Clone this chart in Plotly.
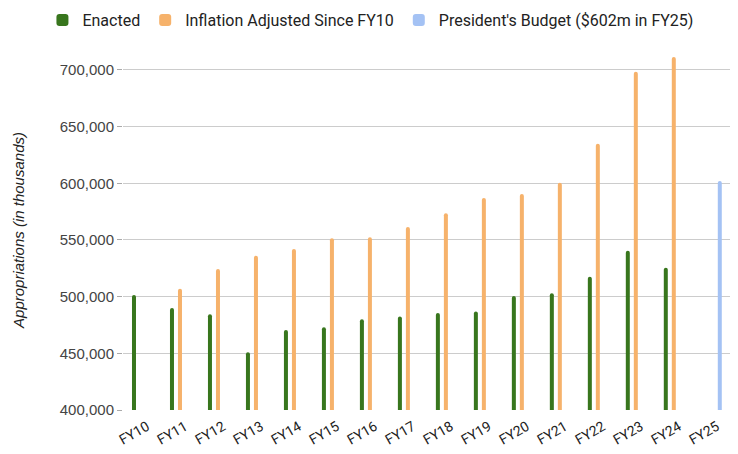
import plotly.graph_objects as go

categories = ["FY10", "FY11", "FY12", "FY13", "FY14", "FY15", "FY16", "FY17",
              "FY18", "FY19", "FY20", "FY21", "FY22", "FY23", "FY24", "FY25"]
enacted = [501500, 490000, 484500, 451000, 470500, 473000, 480000, 482500,
           485500, 487000, 500500, 503000, 517500, 540500, 525500, None]
inflation_adjusted = [None, 507000, 524500, 536000, 542000, 551500, 552500, 561500,
                      573500, 587000, 590500, 600500, 635000, 698500, 711500, None]
presidents_budget = [None] * 15 + [602000]
y_ticks = [400000, 450000, 500000, 550000, 600000, 650000, 700000]

GREEN = "#38761d"
ORANGE = "#f6b26b"
BLUE = "#a4c2f4"
FONT = "Roboto"
ARIAL = "Liberation Sans"

fig = go.Figure()
fig.add_trace(go.Bar(x=categories, y=enacted, name="Enacted",
                     marker=dict(color=GREEN, cornerradius=2, line_width=0)))
fig.add_trace(go.Bar(x=categories, y=inflation_adjusted, name="Inflation Adjusted Since FY10",
                     marker=dict(color=ORANGE, cornerradius=2, line_width=0)))
fig.add_trace(go.Bar(x=categories, y=presidents_budget, name="President's Budget ($602m in FY25)",
                     marker=dict(color=BLUE, cornerradius=2, line_width=0)))

fig.update_layout(
    width=738, height=454,
    margin=dict(l=115, r=8, t=42, b=52, autoexpand=False),
    paper_bgcolor="white", plot_bgcolor="white",
    barmode="group", bargap=0.368, bargroupgap=0.5,
    font=dict(family=FONT, size=13, color="#444"),
    showlegend=True,
    legend=dict(orientation="h", x=-0.131, xanchor="left", xref="paper",
                y=1.083, yanchor="middle", yref="paper",
                font=dict(family=FONT, size=16, color="#222"),
                itemwidth=30, traceorder="normal"),
    xaxis=dict(range=[-0.5, 15.69], tickangle=-30, showgrid=False, showline=False,
               ticks="", tickfont=dict(family=FONT, size=14, color="#222"),
               ticklabelshift=5, ticklabelstandoff=5, automargin=False),
    yaxis=dict(range=[400000, 717600], tickformat=",", tickvals=y_ticks,
               showgrid=True, gridcolor="#cccccc", gridwidth=1, zeroline=False,
               ticks="outside", ticklen=5, tickcolor="#aaa",
               tickfont=dict(family=ARIAL, size=15, color="#444"),
               title=dict(text="<i>Appropriations (in thousands)</i>",
                          font=dict(family=ARIAL, size=15, color="#222"), standoff=31),
               automargin=False),
)

fig.write_html("out.html")
